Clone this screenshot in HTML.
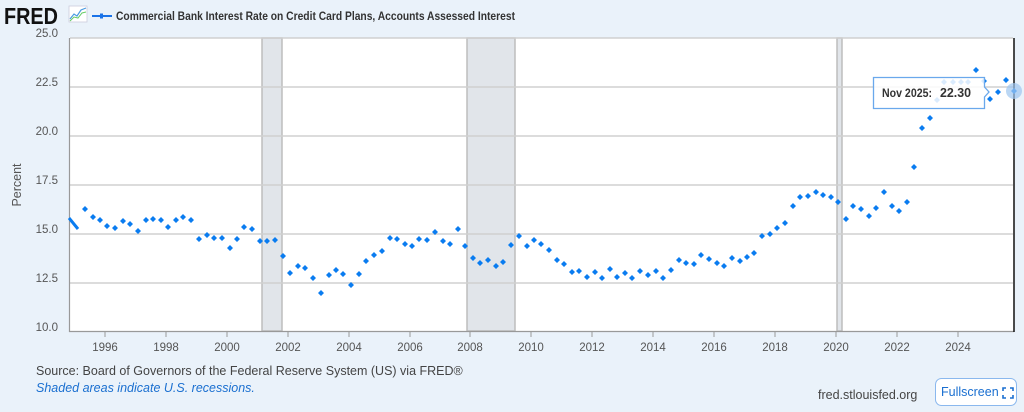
<!DOCTYPE html>
<html><head><meta charset="utf-8"><style>
body{margin:0;background:#eaf2fa;width:1024px;height:412px;overflow:hidden;font-family:"Liberation Sans",sans-serif}
</style></head><body>
<svg width="1024" height="412" xmlns="http://www.w3.org/2000/svg" style="position:absolute;left:0;top:0">
<rect width="1024" height="412" fill="#eaf2fa"/>
<text x="4" y="24" font-family="Liberation Sans" font-weight="bold" font-size="23" fill="#111" textLength="54" lengthAdjust="spacingAndGlyphs">FRED</text>
<rect x="69" y="6" width="18" height="16" fill="#fff" stroke="#ccd" stroke-width="0.8"/>
<polyline points="70,19 74,14 77,16 81,10 86,8" fill="none" stroke="#4a9be0" stroke-width="1.2"/>
<polyline points="70,21 74,17 78,18 82,13 86,12" fill="none" stroke="#6c6" stroke-width="1"/>
<line x1="92" y1="16" x2="112" y2="16" stroke="#1a73e8" stroke-width="2"/>
<rect x="100" y="13.5" width="3" height="5" fill="#1a73e8"/>
<text x="116" y="20" font-size="12" font-weight="bold" fill="#333" textLength="399" lengthAdjust="spacingAndGlyphs">Commercial Bank Interest Rate on Credit Card Plans, Accounts Assessed Interest</text>
<rect x="69.5" y="37.5" width="944" height="293.5" fill="#fff"/>
<g fill="#e1e5ea" stroke="#bdbdbd" stroke-width="1.5">
<rect x="262" y="38" width="20" height="293"/><rect x="467" y="38" width="48" height="293"/><rect x="837" y="38" width="5" height="293"/></g>
<g stroke="#d0d0d0" stroke-width="1.5">
<line x1="70" y1="38" x2="1013" y2="38"/><line x1="70" y1="87" x2="1013" y2="87"/><line x1="70" y1="136" x2="1013" y2="136"/><line x1="70" y1="185" x2="1013" y2="185"/><line x1="70" y1="234" x2="1013" y2="234"/><line x1="70" y1="283" x2="1013" y2="283"/></g>
<line x1="69.5" y1="38" x2="69.5" y2="332" stroke="#999" stroke-width="1.2"/>
<line x1="69" y1="331.5" x2="1014" y2="331.5" stroke="#999" stroke-width="1.2"/>
<line x1="1014" y1="38" x2="1014" y2="332" stroke="#111" stroke-width="1.5"/>
<g fill="#555" font-size="11.5" text-anchor="end">
<text x="58" y="37">25.0</text><text x="58" y="86">22.5</text><text x="58" y="135">20.0</text><text x="58" y="184">17.5</text><text x="58" y="233">15.0</text><text x="58" y="282">12.5</text><text x="58" y="331">10.0</text></g>
<text transform="translate(21,185) rotate(-90)" text-anchor="middle" font-size="12.5" fill="#555">Percent</text>
<g stroke="#999" stroke-width="1"><line x1="105" y1="332" x2="105" y2="337"/><line x1="166" y1="332" x2="166" y2="337"/><line x1="227" y1="332" x2="227" y2="337"/><line x1="288" y1="332" x2="288" y2="337"/><line x1="349" y1="332" x2="349" y2="337"/><line x1="410" y1="332" x2="410" y2="337"/><line x1="470" y1="332" x2="470" y2="337"/><line x1="531" y1="332" x2="531" y2="337"/><line x1="592" y1="332" x2="592" y2="337"/><line x1="653" y1="332" x2="653" y2="337"/><line x1="714" y1="332" x2="714" y2="337"/><line x1="775" y1="332" x2="775" y2="337"/><line x1="836" y1="332" x2="836" y2="337"/><line x1="897" y1="332" x2="897" y2="337"/><line x1="958" y1="332" x2="958" y2="337"/></g>
<g fill="#555" font-size="11.5" text-anchor="middle">
<text x="105" y="351">1996</text><text x="166" y="351">1998</text><text x="227" y="351">2000</text><text x="288" y="351">2002</text><text x="349" y="351">2004</text><text x="410" y="351">2006</text><text x="470" y="351">2008</text><text x="531" y="351">2010</text><text x="592" y="351">2012</text><text x="653" y="351">2014</text><text x="714" y="351">2016</text><text x="775" y="351">2018</text><text x="836" y="351">2020</text><text x="897" y="351">2022</text><text x="958" y="351">2024</text></g>
<line x1="69" y1="218" x2="78" y2="229" stroke="#0a7cf0" stroke-width="3"/>
<path fill="#0a7cf0" d=""/>
<g fill="#fff" stroke="#6aa8ec" stroke-width="1.3">
<path d="M873.5 77.5 H984.5 V87 L989 92 L984.5 97 V108.5 H873.5 Z" fill="#fff" fill-opacity="0.85"/></g>
<text x="882" y="97" font-size="12" font-weight="bold" fill="#333" textLength="50" lengthAdjust="spacingAndGlyphs">Nov 2025:</text>
<text x="940" y="97" font-size="12.5" font-weight="bold" fill="#333" textLength="31" lengthAdjust="spacingAndGlyphs">22.30</text>
<circle cx="1014" cy="91" r="8" fill="#9ec6f0" fill-opacity="0.7"/>
<text x="36" y="375" font-size="12.5" fill="#444">Source: Board of Governors of the Federal Reserve System (US) via FRED®</text>
<text x="36" y="392" font-size="12.5" font-style="italic" fill="#1a6fd0">Shaded areas indicate U.S. recessions.</text>
<text x="818" y="399" font-size="12.5" fill="#444">fred.stlouisfed.org</text>
<rect x="935.5" y="378.5" width="81" height="27" rx="6" fill="#fff" stroke="#8ab8ee"/>
<text x="941" y="396" font-size="12.5" fill="#1a6fd0">Fullscreen</text>
<path d="M1003 391 v-3 h3 M1010 388 h3 v3 M1013 395 v3 h-3 M1006 398 h-3 v-3" fill="none" stroke="#1a6fd0" stroke-width="1.6"/>
</svg>
<script>
var p=[85,209,93,217,100,220,107,226,115,228,123,221,130,224,138,231,146,220,153,219,161,220,168,227,176,220,183,217,191,220,199,239,207,235,214,238,222,238,230,248,237,239,244,227,252,229,260,241,267,241,275,240,283,256,290,273,298,266,305,268,313,278,321,293,329,275,336,270,343,274,351,285,359,274,366,261,374,255,382,251,390,238,397,239,405,244,412,246,419,239,427,240,435,232,443,241,450,244,458,229,465,246,473,258,480,263,488,260,496,266,503,262,511,245,519,236,527,246,534,240,541,244,549,250,557,260,564,264,572,272,579,271,587,277,595,272,602,278,610,269,617,277,625,273,632,278,640,271,648,275,656,271,663,278,671,270,679,260,686,263,694,264,701,255,709,259,717,263,724,266,732,258,740,261,747,257,754,253,762,236,770,234,777,228,785,223,793,206,800,197,808,196,816,192,823,195,831,197,838,202,846,219,853,206,861,209,869,216,876,208,884,192,892,206,899,211,907,202,914,167,922,128,930,118,937,100,944,82,953,82,961,82,968,82,976,70,984,81,990,99,998,92,1006,80,1014,91];
var d="";for(var i=0;i<p.length;i+=2){d+="M"+p[i]+" "+(p[i+1]-3)+"l3 3l-3 3l-3-3z";}
document.querySelector('path[d=""]').setAttribute("d",d);
</script>
</body></html>
